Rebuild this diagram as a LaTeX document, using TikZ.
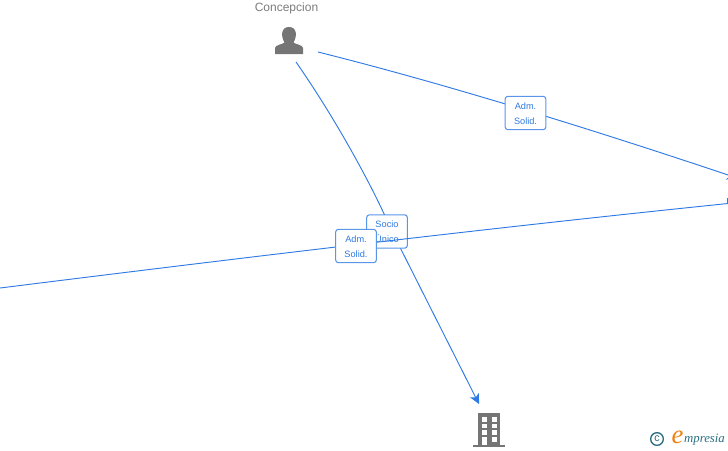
\documentclass[tikz,border=0pt]{standalone}
\usepackage{fontspec}
\setmainfont{Liberation Sans}
\newfontfamily\logofont{Liberation Serif}
\usetikzlibrary{arrows.meta}
\definecolor{link-color}{RGB}{47,122,228}
\definecolor{icon-color}{RGB}{117,117,117}
\definecolor{teal-color}{RGB}{42,110,130}
\definecolor{orange-color}{RGB}{240,130,20}
\newcommand{\lbltext}[2]{\raisebox{-2.4pt}[0pt][0pt]{\begin{tabular}{@{}c@{}}#1\\#2\end{tabular}}}

\begin{document}
\begin{tikzpicture}[
    x=0.75pt, y=-0.75pt,
    % Label boxes and links
    lbox/.style={draw=link-color!80, fill=white, minimum width=30.5pt, minimum height=25pt,
                 inner sep=0pt, font=\fontsize{6.9}{11.2}\selectfont, text=link-color,
                 rounded corners=2pt, line width=0.8pt},
    link/.style={draw=link-color, line width=0.7pt},
    linkarr/.style={link, -{Stealth[length=7.5pt, width=7.5pt, inset=2pt]}},
    iconbox/.style={minimum width=30pt, minimum height=34pt, inner sep=0pt},
    ptitle/.style={font=\fontsize{9}{11}\selectfont, text=icon-color!95}
]
\useasboundingbox (0,0) rectangle (728,450);

% ===== ICON NODES =====
\node[iconbox] (person) at (289,41) {};
\node[iconbox] (building) at (489,430) {};
\node[ptitle] (pname) at (286.5,8.5) {Concepcion};

% person
\fill[icon-color] (275,54) -- (275,48) .. controls (275,45) and (282,44.5) .. (284.5,42.5)
    .. controls (281,37) and (280.5,27) .. (289,27)
    .. controls (297.5,27) and (297,37) .. (293.5,42.5)
    .. controls (296,44.5) and (303,45) .. (303,48) -- (303,54) -- cycle;

% building
\fill[icon-color] (478,413) rectangle (500,445);
\fill[icon-color] (473,445) rectangle (505,447);
\foreach \yy in {417,423.5,430}
    \foreach \xx in {482,492}
        \fill[white] (\xx,\yy) rectangle ++(5,4.5);
\fill[white] (492,437) rectangle ++(5,4.5);
\fill[white] (482,437) rectangle (487,445);

% ===== LINKS =====
\coordinate (left-end) at (0,288);
\coordinate (right-top) at (737,178);
\coordinate (right-low) at (728,203.5);
\coordinate (p-east) at (318,52);
\coordinate (p-south) at (296,62);
\coordinate (b-north) at (479,404);
\coordinate (socio-mid) at (392,231.5);

\draw[linkarr] (p-east) .. controls (450,85) and (600,132) .. (right-top);
\node[lbox] (adm1) at (525.5,113) {\lbltext{Adm.}{Solid.}};

% socio goes under the long link
\draw[linkarr] (p-south) .. controls (335,118) and (372,185) .. (socio-mid) -- (b-north);
\node[lbox] (socio) at (387,231.5) {\lbltext{Socio}{Único}};

\draw[link] (left-end) .. controls (240,258) and (480,229) .. (right-low);
\fill[link-color] (726.5,198) rectangle (728,202.5);
\node[lbox] (adm2) at (356,246) {\lbltext{Adm.}{Solid.}};

% ===== LOGO =====
\node[text=teal-color, draw=teal-color, circle, minimum size=9.5pt, inner sep=0pt, line width=1pt,
      font=\fontsize{8}{8}\selectfont] (copyr) at (657,439) {c};
\node[font=\logofont\itshape\fontsize{20}{20}\selectfont, text=orange-color] (logo-e) at (677.5,437) {e};
\node[font=\logofont\itshape\fontsize{9.6}{10}\selectfont, text=teal-color] (logo) at (704.5,439.5) {mpresia};

\end{tikzpicture}
\end{document}
